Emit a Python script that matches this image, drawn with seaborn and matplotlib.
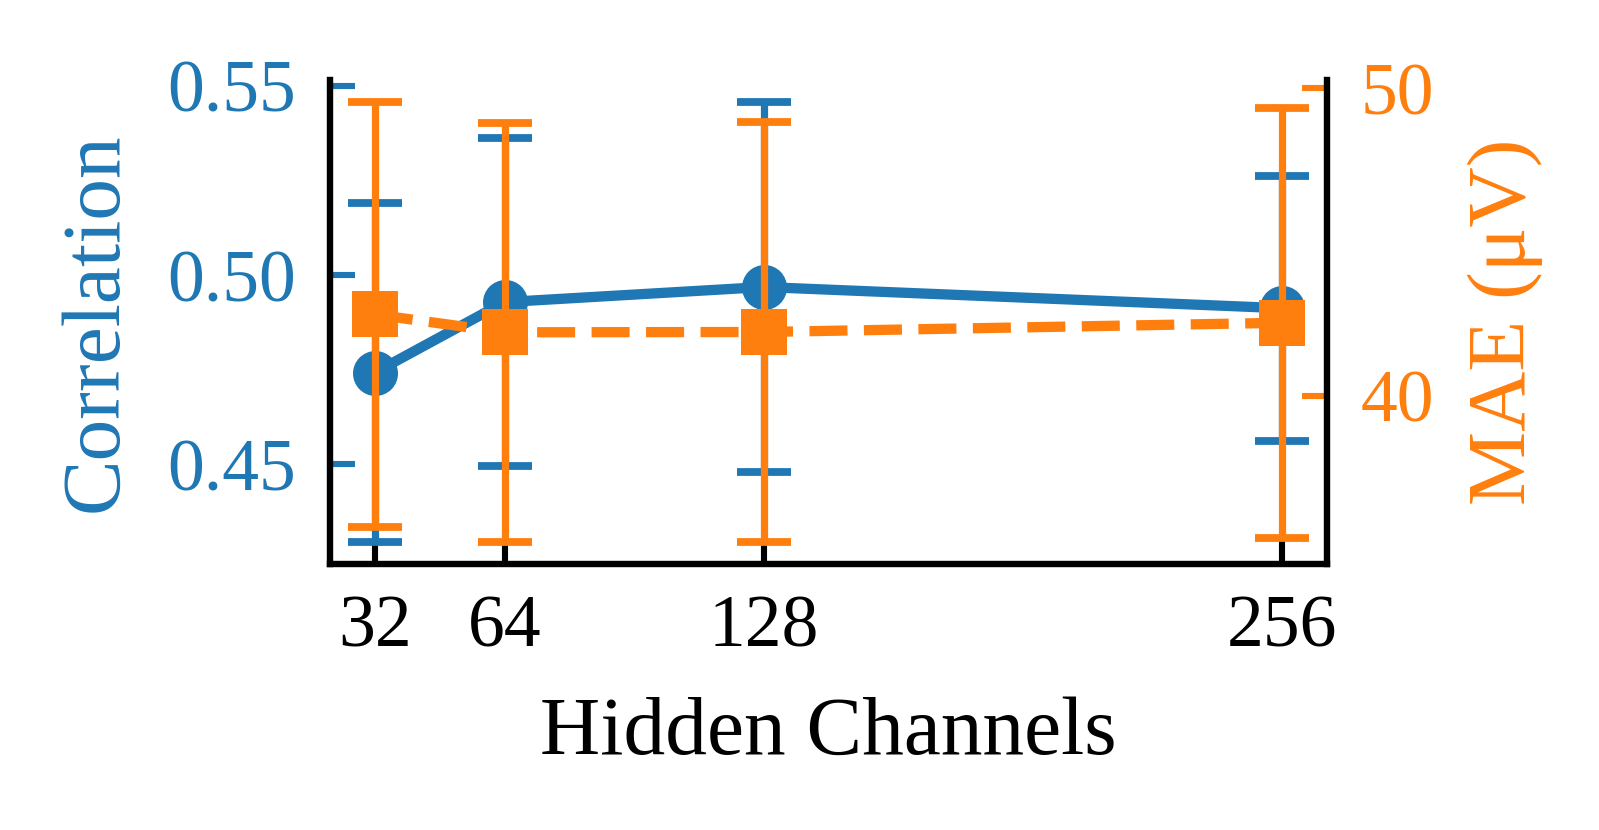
import matplotlib
matplotlib.use("Agg")
import matplotlib.pyplot as plt
import seaborn as sns
import pandas as pd

# Data
channels = [32, 64, 128, 256]
corr_mean = [0.4743, 0.4929, 0.4969, 0.4913]
corr_err = [0.0448, 0.0433, 0.0489, 0.0350]
mae_mean = [42.65, 42.07, 42.08, 42.38]
mae_err = [6.91, 6.82, 6.83, 6.99]
x_ticks = [32, 64, 128, 256]
left_ticks = [0.45, 0.50, 0.55]
right_ticks = [40, 50]

BLUE = "#1f77b4"
ORANGE = "#ff7f0e"

sns.set_theme(style="white")
plt.rcParams["font.family"] = ["Liberation Serif", "DejaVu Serif"]
plt.rcParams["mathtext.fontset"] = "stix"

fig = plt.figure(figsize=(7.995, 4.15), dpi=200)
ax1 = fig.add_axes([0.2061, 0.3205, 0.8302 - 0.2061, 0.9036 - 0.3205])
ax2 = ax1.twinx()

df = pd.DataFrame({"ch": channels, "corr": corr_mean, "mae": mae_mean})

sns.lineplot(data=df, x="ch", y="corr", ax=ax1, color=BLUE, lw=3.7,
             marker="o", markersize=16.2, markeredgewidth=0, zorder=3)
ax1.errorbar(channels, corr_mean, yerr=corr_err, fmt="none", ecolor=BLUE,
             elinewidth=2.6, capsize=9.8, capthick=2.8, zorder=2)

sns.lineplot(data=df, x="ch", y="mae", ax=ax2, color=ORANGE, lw=3.7,
             marker="s", markersize=16.5, markeredgewidth=0, zorder=3,
             linestyle="--")
ax2.errorbar(channels, mae_mean, yerr=mae_err, fmt="none", ecolor=ORANGE,
             elinewidth=2.6, capsize=9.8, capthick=2.8, zorder=2)

ax1.set_xticks(x_ticks)
ax1.set_xticklabels([str(v) for v in x_ticks])
ax1.set_yticks(left_ticks)
ax1.set_yticklabels([f"{v:.2f}" for v in left_ticks])
ax2.set_yticks(right_ticks)
ax2.set_yticklabels([str(v) for v in right_ticks])

ax1.tick_params(axis="x", direction="in", length=9, width=2.2, colors="black",
                labelsize=26.5, pad=11, bottom=True)
ax1.tick_params(axis="y", direction="in", length=9, width=2.2, colors=BLUE,
                labelsize=26.5, pad=12, left=True)
ax2.tick_params(axis="y", direction="in", length=9, width=2.2, colors=ORANGE,
                labelsize=26.5, pad=12, right=True)

ax1.set_xlabel("Hidden Channels", fontsize=30, color="black", labelpad=12.5)
ax1.set_ylabel("Correlation", fontsize=30, color=BLUE, labelpad=12)
ax2.set_ylabel("MAE (μV)", fontsize=30, color=ORANGE, labelpad=12)

for ax in (ax1, ax2):
    ax.spines["top"].set_visible(False)
    for s in ("left", "right", "bottom"):
        ax.spines[s].set_color("black")
        ax.spines[s].set_linewidth(2.3)
ax1.spines["right"].set_visible(False)
ax2.spines["left"].set_visible(False)
ax2.spines["bottom"].set_visible(False)

fig.savefig("out.png", dpi=200)
